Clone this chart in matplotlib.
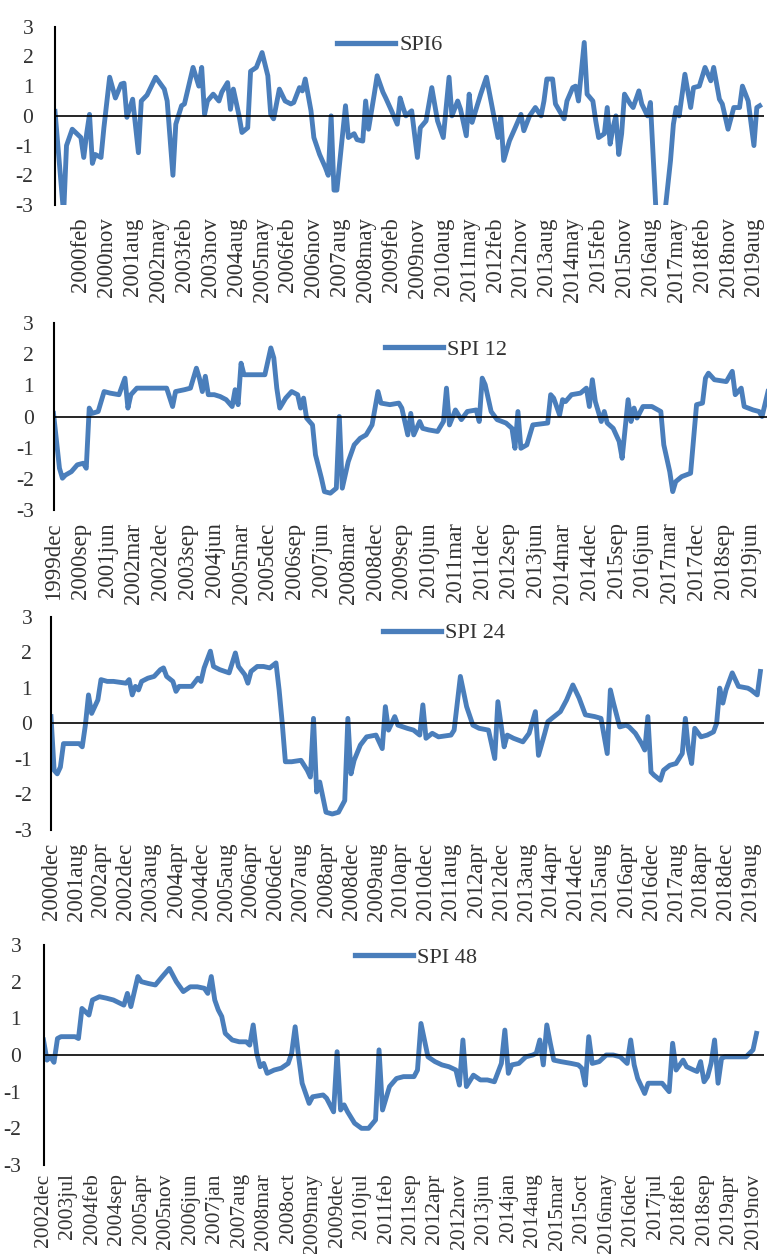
import matplotlib.pyplot as plt
from matplotlib.lines import Line2D

plt.rcParams['font.family'] = ['Liberation Serif', 'DejaVu Serif']

W, H = 767, 1254
LINE_COLOR = '#4A7EBB'
TEXT_COLOR = '#333333'

# SPI6, month index 0 = 1999 May
spi6_month = [0, 3, 4, 6, 9, 10, 11, 12, 13, 14, 16, 17, 19, 21, 23, 24, 25, 27, 29, 30,
              32, 33, 35, 38, 39, 41, 42, 44, 45, 48, 50, 51, 52, 53, 55, 57, 58, 60, 61, 62,
              64, 65, 67, 68, 70, 72, 74, 75, 76, 78, 80, 82, 83, 85, 86, 87, 89, 90, 92, 94,
              95, 96, 97, 98, 100, 101, 102, 104, 105, 107, 108, 109, 111, 112, 114, 115, 117, 119, 120, 121,
              122, 124, 126, 127, 129, 131, 133, 135, 137, 138, 140, 141, 143, 144, 145, 148, 150, 152, 154, 155,
              156, 158, 160, 162, 163, 165, 167, 169, 170, 171, 173, 174, 177, 178, 180, 181, 182, 184, 185, 187,
              188, 189, 191, 192, 193, 194, 195, 196, 197, 198, 200, 201, 203, 204, 206, 207, 209, 212, 214, 215,
              216, 217, 219, 221, 222, 224, 226, 228, 229, 231, 232, 234, 236, 238, 239, 241, 243, 244, 245]
spi6_value = [0.15, -3.3, -1.0, -0.45, -0.73, -1.4, -0.6, 0.05, -1.6, -1.3, -1.4, -0.4, 1.3, 0.6, 1.07, 1.1, -0.05, 0.56, -1.24, 0.5,
              0.7, 0.9, 1.3, 0.9, 0.5, -2.0, -0.28, 0.34, 0.4, 1.63, 1.0, 1.63, 0.05, 0.5, 0.73, 0.5, 0.8, 1.12, 0.22, 0.9,
              0.0, -0.56, -0.4, 1.5, 1.63, 2.13, 1.35, 0.05, -0.1, 0.9, 0.5, 0.4, 0.45, 0.95, 0.84, 1.24, 0.17, -0.73, -1.3, -1.74,
              -2.0, 0.0, -2.5, -2.5, -0.6, 0.34, -0.73, -0.6, -0.8, -0.85, 0.5, -0.45, 0.73, 1.35, 0.8, 0.6, 0.17, -0.28, 0.6, 0.28,
              0.0, 0.17, -1.4, -0.4, -0.17, 0.95, -0.17, -0.73, 1.3, 0.0, 0.5, 0.22, -0.67, 0.73, -0.22, 0.73, 1.3, 0.28, -0.73, -0.05,
              -1.5, -0.84, -0.4, 0.05, -0.5, 0.0, 0.28, 0.0, 0.5, 1.24, 1.24, 0.4, -0.1, 0.5, 0.95, 1.0, 0.5, 2.47, 0.73, 0.5,
              -0.17, -0.73, -0.6, 0.28, -0.95, -0.4, 0.0, -1.3, -0.6, 0.73, 0.4, 0.28, 0.84, 0.4, 0.0, 0.45, -3.3, -3.3, -1.5, -0.28,
              0.28, 0.0, 1.4, 0.28, 0.95, 1.0, 1.63, 1.18, 1.63, 0.56, 0.4, -0.45, 0.28, 0.28, 1.0, 0.5, -1.0, 0.28, 0.34]
spi6_tick_pos = list(range(9, 244, 9))
spi6_ticks = ['2000feb', '2000nov', '2001aug', '2002may', '2003feb', '2003nov', '2004aug',
              '2005may', '2006feb', '2006nov', '2007aug', '2008may', '2009feb', '2009nov',
              '2010aug', '2011may', '2012feb', '2012nov', '2013aug', '2014may', '2015feb',
              '2015nov', '2016aug', '2017may', '2018feb', '2018nov', '2019aug']

# SPI 12, month index 0 = 1999 Dec
spi12_month = [0, 2, 3, 4, 6, 8, 10, 11, 12, 13, 15, 17, 19, 22, 24, 25, 26, 28, 30, 35,
               38, 40, 41, 44, 46, 48, 49, 50, 51, 52, 54, 56, 58, 60, 61, 62, 63, 64, 66, 69,
               71, 73, 74, 75, 76, 78, 80, 82, 83, 84, 85, 87, 88, 90, 91, 93, 95, 96, 97, 99,
               101, 103, 105, 107, 109, 110, 113, 116, 117, 119, 120, 121, 123, 124, 126, 129, 131, 132, 133, 135,
               137, 139, 142, 143, 144, 145, 147, 149, 152, 154, 155, 156, 157, 159, 161, 166, 167, 168, 170, 171,
               172, 174, 177, 179, 180, 181, 182, 184, 185, 186, 188, 190, 191, 193, 194, 195, 196, 198, 201, 204,
               205, 207, 208, 209, 211, 214, 215, 216, 218, 219, 220, 222, 226, 228, 229, 231, 232, 235, 237, 238, 240]
spi12_value = [0.1, -1.66, -1.98, -1.88, -1.77, -1.55, -1.5, -1.66, 0.27, 0.1, 0.16, 0.8, 0.75, 0.7, 1.23, 0.27, 0.7, 0.91, 0.91, 0.91,
               0.91, 0.32, 0.8, 0.86, 0.91, 1.55, 1.23, 0.8, 1.29, 0.7, 0.7, 0.64, 0.54, 0.32, 0.86, 0.38, 1.71, 1.34, 1.34, 1.34,
               1.34, 2.2, 1.88, 0.91, 0.27, 0.59, 0.8, 0.7, 0.27, 0.59, -0.05, -0.27, -1.23, -1.98, -2.41, -2.46, -2.3, 0.0, -2.3, -1.45,
               -0.91, -0.7, -0.59, -0.27, 0.8, 0.43, 0.38, 0.43, 0.27, -0.59, 0.1, -0.59, -0.16, -0.38, -0.43, -0.48, -0.16, 0.91, -0.27, 0.21,
               -0.1, 0.16, 0.21, -0.16, 1.23, 1.02, 0.16, -0.1, -0.21, -0.38, -1.02, 0.16, -1.02, -0.91, -0.27, -0.21, 0.7, 0.59, 0.05, 0.54,
               0.48, 0.7, 0.75, 0.91, 0.32, 1.18, 0.48, -0.16, 0.16, -0.21, -0.38, -0.8, -1.34, 0.54, -0.16, 0.27, -0.05, 0.32, 0.32, 0.16,
               -0.91, -1.77, -2.41, -2.09, -1.93, -1.82, -0.7, 0.38, 0.43, 1.23, 1.39, 1.18, 1.12, 1.45, 0.7, 0.91, 0.32, 0.21, 0.16, 0.0, 0.8]
spi12_tick_pos = list(range(0, 235, 9))
spi12_ticks = ['1999dec', '2000sep', '2001jun', '2002mar', '2002dec', '2003sep', '2004jun',
               '2005mar', '2005dec', '2006sep', '2007jun', '2008mar', '2008dec', '2009sep',
               '2010jun', '2011mar', '2011dec', '2012sep', '2013jun', '2014mar', '2014dec',
               '2015sep', '2016jun', '2017mar', '2017dec', '2018sep', '2019jun']

# SPI 24, month index 0 = 2000 Dec
spi24_month = [0, 1, 2, 3, 4, 6, 9, 10, 11, 12, 13, 15, 16, 18, 20, 24, 25, 26, 27, 28,
               29, 31, 33, 35, 36, 37, 39, 40, 41, 43, 45, 47, 48, 49, 51, 52, 54, 57, 58, 59,
               60, 62, 63, 64, 66, 68, 70, 72, 73, 74, 75, 77, 80, 82, 83, 84, 85, 86, 87, 88,
               90, 92, 94, 95, 96, 97, 99, 101, 104, 106, 107, 108, 110, 111, 114, 116, 118, 119, 120, 122,
               124, 128, 129, 130, 131, 133, 135, 137, 140, 142, 143, 145, 146, 148, 151, 153, 155, 156, 158, 159,
               161, 163, 165, 167, 169, 171, 174, 176, 178, 179, 180, 182, 184, 185, 187, 189, 190, 191, 192, 193,
               195, 196, 198, 200, 202, 203, 204, 205, 206, 208, 210, 212, 213, 214, 215, 216, 218, 220, 223, 224, 226, 227]
spi24_value = [0.19, -1.32, -1.42, -1.23, -0.57, -0.57, -0.57, -0.66, -0.05, 0.8, 0.28, 0.66, 1.23, 1.18, 1.18, 1.13, 1.23, 0.8, 1.04, 0.94,
               1.18, 1.27, 1.32, 1.51, 1.56, 1.32, 1.18, 0.9, 1.04, 1.04, 1.04, 1.27, 1.18, 1.56, 2.03, 1.6, 1.51, 1.42, 1.7, 1.98,
               1.6, 1.37, 1.13, 1.46, 1.6, 1.6, 1.56, 1.7, 0.94, 0.0, -1.08, -1.08, -1.04, -1.32, -1.51, 0.14, -1.93, -1.65, -2.08, -2.5,
               -2.55, -2.5, -2.17, 0.14, -1.42, -1.04, -0.61, -0.38, -0.33, -0.71, 0.47, -0.19, 0.19, -0.05, -0.14, -0.19, -0.33, 0.52, -0.42, -0.28,
               -0.38, -0.33, -0.19, 0.57, 1.32, 0.47, -0.05, -0.14, -0.19, -0.99, 0.61, -0.66, -0.33, -0.42, -0.52, -0.28, 0.33, -0.9, -0.28, 0.05,
               0.19, 0.33, 0.66, 1.08, 0.71, 0.24, 0.19, 0.14, -0.85, 0.94, 0.57, -0.1, -0.05, -0.1, -0.28, -0.57, -0.75, 0.19, -1.37, -1.46,
               -1.6, -1.32, -1.18, -1.13, -0.85, 0.14, -0.75, -1.13, -0.14, -0.38, -0.33, -0.24, 0.0, 0.99, 0.57, 0.94, 1.42, 1.04, 0.99, 0.94, 0.8, 1.46]
spi24_tick_pos = list(range(0, 225, 8))
spi24_ticks = ['2000dec', '2001aug', '2002apr', '2002dec', '2003aug', '2004apr', '2004dec',
               '2005aug', '2006apr', '2006dec', '2007aug', '2008apr', '2008dec', '2009aug',
               '2010apr', '2010dec', '2011aug', '2012apr', '2012dec', '2013aug', '2014apr',
               '2014dec', '2015aug', '2016apr', '2016dec', '2017aug', '2018apr', '2018dec',
               '2019aug']

# SPI 48, month index 0 = 2002 Dec
spi48_month = [0, 1, 2, 3, 4, 5, 7, 9, 10, 11, 13, 14, 16, 18, 20, 23, 24, 25, 26, 27,
               28, 30, 32, 34, 36, 38, 40, 42, 44, 46, 47, 48, 49, 50, 51, 52, 54, 56, 58, 59,
               60, 61, 62, 63, 64, 66, 68, 70, 71, 72, 73, 74, 76, 77, 80, 81, 83, 84, 85, 86,
               87, 89, 91, 93, 95, 96, 97, 99, 101, 103, 106, 107, 108, 110, 112, 114, 116, 118, 119, 120,
               121, 123, 125, 127, 129, 131, 132, 133, 134, 136, 138, 140, 141, 142, 143, 144, 145, 146, 148, 151,
               153, 154, 155, 156, 157, 159, 161, 163, 165, 167, 168, 169, 170, 172, 173, 175, 177, 179, 180, 181,
               183, 184, 186, 187, 188, 189, 190, 191, 192, 193, 194, 195, 197, 199, 201, 203, 204]
spi48_value = [0.41, -0.14, -0.05, -0.2, 0.45, 0.5, 0.5, 0.5, 0.45, 1.27, 1.09, 1.5, 1.59, 1.55, 1.5, 1.36, 1.68, 1.32, 1.73, 2.14,
               2.0, 1.95, 1.91, 2.14, 2.36, 2.0, 1.73, 1.86, 1.86, 1.82, 1.68, 2.14, 1.5, 1.23, 1.05, 0.59, 0.41, 0.36, 0.36, 0.27,
               0.82, 0.05, -0.32, -0.23, -0.5, -0.41, -0.36, -0.23, 0.05, 0.77, -0.05, -0.77, -1.32, -1.14, -1.09, -1.18, -1.55, 0.09, -1.5, -1.36,
               -1.55, -1.86, -2.0, -2.0, -1.77, 0.14, -1.5, -0.86, -0.64, -0.59, -0.59, -0.41, 0.86, -0.05, -0.18, -0.27, -0.32, -0.41, -0.82, 0.41,
               -0.86, -0.55, -0.68, -0.68, -0.73, -0.23, 0.68, -0.5, -0.27, -0.23, -0.05, 0.0, 0.05, 0.41, -0.27, 0.82, 0.32, -0.14, -0.18, -0.23,
               -0.27, -0.36, -0.82, 0.5, -0.23, -0.18, 0.0, 0.0, -0.05, -0.23, 0.41, -0.27, -0.64, -1.05, -0.77, -0.77, -0.77, -1.0, 0.32, -0.41,
               -0.14, -0.32, -0.41, -0.45, -0.18, -0.73, -0.59, -0.23, 0.41, -0.77, -0.09, -0.05, -0.05, -0.05, -0.05, 0.14, 0.59]
spi48_tick_pos = list(range(0, 204, 7))
spi48_ticks = ['2002dec', '2003jul', '2004feb', '2004sep', '2005apr', '2005nov', '2006jun',
               '2007jan', '2007aug', '2008mar', '2008oct', '2009may', '2009dec', '2010jul',
               '2011feb', '2011sep', '2012apr', '2012nov', '2013jun', '2014jan', '2014aug',
               '2015mar', '2015oct', '2016may', '2016dec', '2017jul', '2018feb', '2018sep',
               '2019apr', '2019nov']

y_ticks = [-3, -2, -1, 0, 1, 2, 3]
y_tick_labels = ['-3', '-2', '-1', '0', '1', '2', '3']


def draw_panel(fig, box, months, values, xmax, tick_pos, tick_labels, name, legend_xy,
               ypad, xsize=16.5, xpad=9):
    left, top, right, bottom = box
    ax = fig.add_axes([left / W, 1 - bottom / H, (right - left) / W, (bottom - top) / H])
    ax.plot(months, values, color=LINE_COLOR, lw=3.5, solid_joinstyle='round', label=name, zorder=2)
    ax.axhline(0, color='black', lw=1.2, zorder=3)
    ax.set_xlim(0, xmax)
    ax.set_ylim(-3, 3)
    for side in ['top', 'right', 'bottom']:
        ax.spines[side].set_visible(False)
    ax.spines['left'].set_linewidth(1.5)
    ax.spines['left'].set_color('black')
    ax.set_yticks(y_ticks)
    ax.set_yticklabels(y_tick_labels, fontsize=15.5)
    ax.set_xticks(tick_pos)
    ax.set_xticklabels(tick_labels, rotation=90, ha='center', va='top', fontsize=xsize)
    ax.tick_params(axis='both', length=0, colors=TEXT_COLOR)
    ax.tick_params(axis='y', pad=ypad)
    ax.tick_params(axis='x', pad=xpad)
    ax.patch.set_alpha(0)

    handle = Line2D([], [], color=LINE_COLOR, lw=3.8)
    ax.legend([handle], [name], loc='center left',
              bbox_to_anchor=(legend_xy[0] / W, 1 - legend_xy[1] / H),
              bbox_transform=fig.transFigure, frameon=False, fontsize=16,
              handlelength=2.6, handletextpad=0.2, borderpad=0, borderaxespad=0,
              labelcolor=TEXT_COLOR)
    return ax


fig = plt.figure(figsize=(W / 100, H / 100), dpi=100)

draw_panel(fig, (55, 26.7, 764, 205), spi6_month, spi6_value, 246.5,
           spi6_tick_pos, spi6_ticks, 'SPI6', (337, 45), 15.5)
draw_panel(fig, (53.5, 323, 768, 510), spi12_month, spi12_value, 240,
           spi12_tick_pos, spi12_ticks, 'SPI 12', (385, 350), 14)
draw_panel(fig, (51, 616.7, 763.5, 830), spi24_month, spi24_value, 228,
           spi24_tick_pos, spi24_ticks, 'SPI 24', (383, 633), 13.5)
draw_panel(fig, (43.5, 945, 763.5, 1165), spi48_month, spi48_value, 206,
           spi48_tick_pos, spi48_ticks, 'SPI 48', (355, 958), 16, xsize=15.5, xpad=6)

fig.savefig('out.png', dpi=100)
